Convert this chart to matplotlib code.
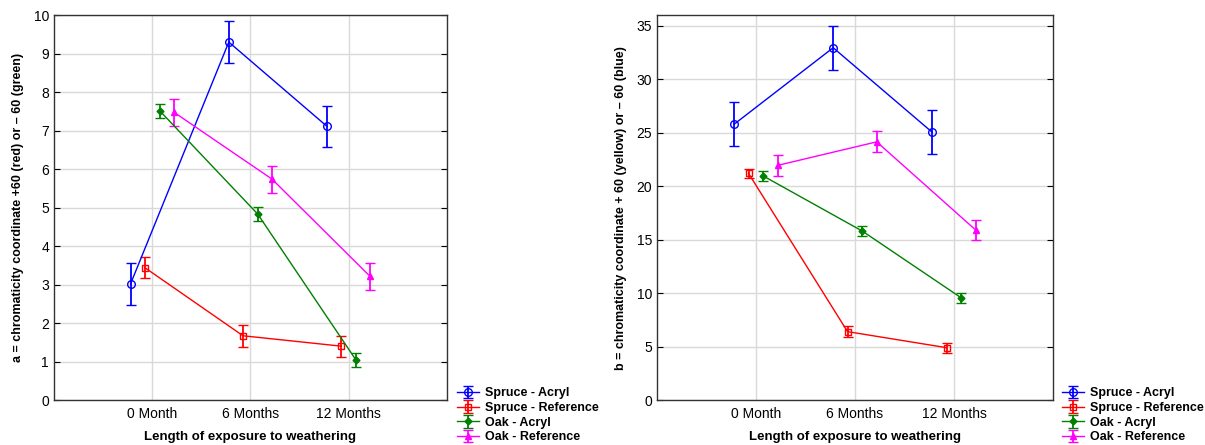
import matplotlib.pyplot as plt
import numpy as np

plt.rcParams['font.family'] = ['Liberation Sans', 'DejaVu Sans']

months = ['0 Month', '6 Months', '12 Months']
series = ['Spruce - Acryl', 'Spruce - Reference', 'Oak - Acryl', 'Oak - Reference']

# a* values (left panel) and half-width of the error bars
a_vals = {
    'Spruce - Acryl': [3.02, 9.30, 7.11],
    'Spruce - Reference': [3.44, 1.67, 1.40],
    'Oak - Acryl': [7.52, 4.83, 1.04],
    'Oak - Reference': [7.48, 5.74, 3.21],
}
a_err = {
    'Spruce - Acryl': [0.55, 0.54, 0.54],
    'Spruce - Reference': [0.27, 0.28, 0.27],
    'Oak - Acryl': [0.18, 0.18, 0.18],
    'Oak - Reference': [0.35, 0.35, 0.35],
}

# b* values (right panel)
b_vals = {
    'Spruce - Acryl': [25.8, 32.95, 25.05],
    'Spruce - Reference': [21.2, 6.4, 4.9],
    'Oak - Acryl': [20.95, 15.8, 9.55],
    'Oak - Reference': [21.95, 24.15, 15.9],
}
b_err = {
    'Spruce - Acryl': [2.05, 2.05, 2.07],
    'Spruce - Reference': [0.45, 0.5, 0.48],
    'Oak - Acryl': [0.5, 0.5, 0.5],
    'Oak - Reference': [0.95, 0.98, 0.95],
}

colors = ['#0000ff', '#ff0000', '#008000', '#ff00ff']
markers = ['o', 's', 'D', '^']
msizes = [5.5, 5, 3.5, 5]
filled = [False, False, True, True]
offsets = [-0.22, -0.075, 0.075, 0.22]

fig = plt.figure(figsize=(12.05, 4.45), dpi=100)
ax1 = fig.add_axes([0.0448, 0.101, 0.326, 0.865])
ax2 = fig.add_axes([0.5452, 0.101, 0.3286, 0.865])

x = np.arange(len(months))


def draw(ax, vals, errs, ylim, yticks, ylabel):
    handles = []
    for i, name in enumerate(series):
        c = colors[i]
        h = ax.errorbar(x + offsets[i], vals[name], yerr=errs[name], color=c,
                        marker=markers[i], markersize=msizes[i],
                        markerfacecolor=c if filled[i] else 'none',
                        markeredgecolor=c, markeredgewidth=1.0,
                        linewidth=1.0, elinewidth=1.3, capsize=3.6, capthick=1.3,
                        label=name, zorder=3)
        handles.append(h)
    ax.set_xlim(-1, 3)
    ax.set_ylim(*ylim)
    ax.set_xticks(x)
    ax.set_xticklabels(months, fontsize=10)
    ax.set_yticks(yticks)
    ax.tick_params(axis='y', labelsize=10, direction='in', right=True, length=4)
    ax.tick_params(axis='x', direction='in', length=0, pad=5)
    ax.grid(True, color='#d9d9d9', linewidth=1.0, zorder=0)
    ax.set_axisbelow(True)
    for sp in ax.spines.values():
        sp.set_color('#333333')
        sp.set_linewidth(1.0)
    ax.set_xlabel('Length of exposure to weathering', fontsize=9.5, fontweight='bold', labelpad=7)
    ax.set_ylabel(ylabel, fontsize=9, fontweight='bold', labelpad=7)
    return handles


h1 = draw(ax1, a_vals, a_err, (0, 10), range(0, 11),
          'a = chromaticity coordinate +60 (red) or \u2013 60 (green)')
h2 = draw(ax2, b_vals, b_err, (0, 36), range(0, 36, 5),
          'b = chromaticity coordinate + 60 (yellow) or \u2013 60 (blue)')

for hs, xpos in [(h1, 0.379), (h2, 0.881)]:
    fig.legend(hs, series, loc='upper left', bbox_to_anchor=(xpos, 0.13),
               frameon=False, prop={'weight': 'bold', 'size': 9},
               handlelength=1.8, handletextpad=0.5, labelspacing=0.22,
               borderpad=0, borderaxespad=0)

fig.savefig('out.png', dpi=100)
